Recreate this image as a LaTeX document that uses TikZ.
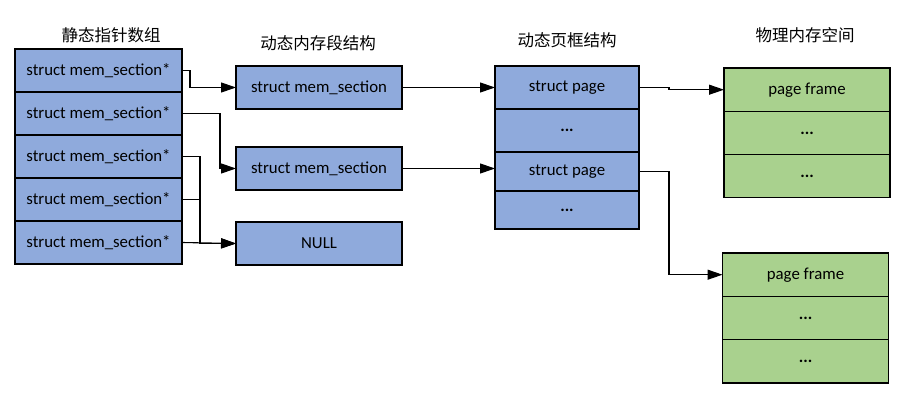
\documentclass[tikz,border=0pt]{standalone}
\usepackage{fontspec}
\setmainfont{Carlito}
\newfontfamily\cjk{Noto Sans CJK SC}
\usetikzlibrary{arrows.meta,positioning}
\definecolor{CellBlue}{RGB}{143,170,220}
\definecolor{CellGreen}{RGB}{169,209,142}
\tikzset{
  bluebox/.style={draw=black, line width=1.1pt, fill=CellBlue, minimum height=43pt, inner sep=0pt, outer sep=0pt, font=\fontsize{16.8}{18}\selectfont},
  greenbox/.style={draw=black, line width=1.1pt, fill=CellGreen, minimum width=166pt, minimum height=43.3pt, inner sep=0pt, outer sep=0pt, font=\fontsize{16.8}{18}\selectfont},
  title/.style={font=\cjk\fontsize{16.5}{18}\selectfont},
  arr/.style={-{Triangle[length=15pt,width=10pt]}, line width=1.1pt}
}
\begin{document}
\begin{tikzpicture}[x=1pt, y=-1pt, node distance=0pt]
\useasboundingbox (0,0) rectangle (917,411);
% static pointer array
\node[title] (t1) at (111,35) {静态指针数组};
\node[bluebox, minimum width=167pt] (s1) at (98.5,70.5) {struct mem\_section*};
\node[bluebox, minimum width=167pt, below=of s1] (s2) {struct mem\_section*};
\node[bluebox, minimum width=167pt, below=of s2] (s3) {struct mem\_section*};
\node[bluebox, minimum width=167pt, below=of s3] (s4) {struct mem\_section*};
\node[bluebox, minimum width=167pt, below=of s4] (s5) {struct mem\_section*};
% dynamic mem sections
\node[title] (t2) at (318,43) {动态内存段结构};
\node[bluebox, minimum width=166pt] (m1) at (319,87.5) {struct mem\_section};
\node[bluebox, minimum width=166pt] (m2) at (319,168.5) {struct mem\_section};
\node[bluebox, minimum width=166pt] (null) at (319,243.5) {NULL};
% page structs
\node[title] (t3) at (567,40) {动态页框结构};
\node[bluebox, minimum width=144pt] (p1) at (567,87.5) {struct page};
\node[bluebox, minimum width=144pt, below=of p1] (p2) {\textbf{...}};
\node[bluebox, minimum width=144pt, minimum height=39pt, below=of p2] (p3) {struct page};
\node[bluebox, minimum width=144pt, minimum height=38pt, below=of p3] (p4) {\textbf{...}};
% physical memory
\node[title] (t4) at (805,35) {物理内存空间};
\node[greenbox] (f1) at (807,89.7) {page frame};
\node[greenbox, below=of f1] (f2) {\textbf{...}};
\node[greenbox, below=of f2] (f3) {\textbf{...}};
\node[greenbox] (g1) at (805.5,274.7) {page frame};
\node[greenbox, below=of g1] (g2) {\textbf{...}};
\node[greenbox, below=of g2] (g3) {\textbf{...}};
% pointers
\draw[arr] (s1.east) -- ++(8,0) |- (m1.west);
\draw[arr] (s2.east) -- ++(38,0) |- (m2.west);
\draw[arr] (s3.east) -- ++(18,0) |- (null.west);
\draw (s4.east) -- ++(18,0);
\draw[arr] (s5.east) -- (null.west);
\draw[arr] (m1.east) -- (p1.west);
\draw[arr] (m2.east) -- (m2.east -| p3.west);
\draw[arr] (p1.east) -- ++(30,0) |- (f1.west);
\draw[arr] (p3.east) -- ++(30,0) |- (g1.west);
\end{tikzpicture}
\end{document}
